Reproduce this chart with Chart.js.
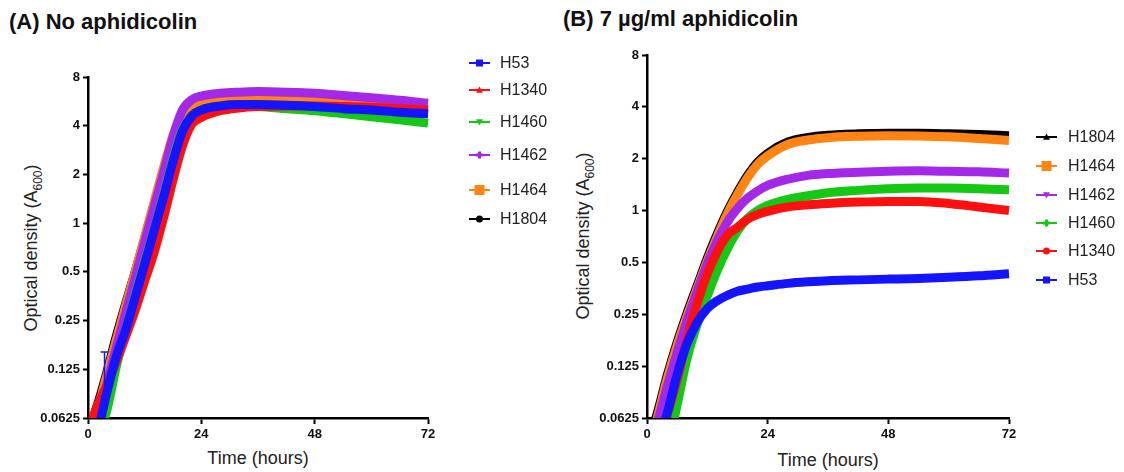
<!DOCTYPE html>
<html>
<head>
<meta charset="utf-8">
<script src="https://cdn.jsdelivr.net/npm/chart.js@4.4.1/dist/chart.umd.min.js"></script>
<style>
  body { margin: 0; background: #fff; width: 1124px; height: 472px; overflow: hidden; position: relative; font-family: "Liberation Sans", Arial, sans-serif; }
  canvas { position: absolute; top: 0; }
  #chartA { left: 0; }
  #chartB { left: 562px; }
  .head { position: absolute; font-weight: bold; font-size: 22px; color: #111; white-space: nowrap; }
  .ytitle { position: absolute; font-size: 18px; color: #222; white-space: nowrap; transform: translate(-50%, -50%) rotate(-90deg); }
  .xtitle { position: absolute; font-size: 18px; color: #222; white-space: nowrap; transform: translate(-50%, -50%); }
  .ytitle sub { font-size: 12px; }
</style>
</head>
<body>
<div class="head" style="left:9px; top:9px;">(A) No aphidicolin</div>
<div class="head" style="left:563px; top:6px;">(B) 7 µg/ml aphidicolin</div>
<div class="ytitle" style="left:33px; top:248px;">Optical density (A<sub>600</sub>)</div>
<div class="ytitle" style="left:585px; top:236px;">Optical density (A<sub>600</sub>)</div>
<div class="xtitle" style="left:258px; top:458px;">Time (hours)</div>
<div class="xtitle" style="left:828px; top:460px;">Time (hours)</div>
<canvas id="chartA" width="562" height="472"></canvas>
<canvas id="chartB" width="562" height="472"></canvas>
<script>
// --- DADOS ---
const hours = [0, 2, 4, 6, 8, 10, 12, 14, 16, 18, 20, 22, 24, 28, 32, 36, 42, 48, 54, 60, 66, 72];
const xTickValues = [0, 24, 48, 72];
const yTickValues = [0.0625, 0.125, 0.25, 0.5, 1, 2, 4, 8];
const yTickLabels = ["0.0625", "0.125", "0.25", "0.5", "1", "2", "4", "8"];

// (A) sem afidicolina
const a_H53   = [0.03, 0.05, 0.09, 0.15, 0.22, 0.35, 0.56, 0.9, 1.45, 2.4, 3.7, 4.6, 5.0, 5.3, 5.4, 5.4, 5.35, 5.25, 5.1, 5.0, 4.85, 4.75];
const a_H1340 = [0.05, 0.075, 0.1, 0.14, 0.2, 0.29, 0.44, 0.66, 1.08, 1.85, 3.0, 4.1, 4.5, 4.95, 5.15, 5.25, 5.3, 5.3, 5.25, 5.2, 5.1, 5.0];
const a_H1460 = [0.03, 0.045, 0.07, 0.13, 0.22, 0.36, 0.58, 0.92, 1.5, 2.5, 3.8, 4.6, 5.0, 5.25, 5.3, 5.25, 5.1, 4.95, 4.75, 4.55, 4.35, 4.15];
const a_H1462 = [0.04, 0.06, 0.1, 0.17, 0.28, 0.46, 0.76, 1.25, 2.05, 3.4, 5.0, 5.8, 6.1, 6.35, 6.45, 6.5, 6.45, 6.35, 6.15, 5.95, 5.75, 5.5];
const a_H1464 = [0.045, 0.07, 0.115, 0.19, 0.31, 0.5, 0.82, 1.35, 2.2, 3.5, 4.8, 5.4, 5.7, 5.9, 5.95, 5.95, 5.9, 5.8, 5.6, 5.4, 5.2, 5.0];
const a_H1804 = [0.05, 0.075, 0.12, 0.2, 0.32, 0.5, 0.8, 1.3, 2.1, 3.3, 4.5, 5.1, 5.3, 5.45, 5.5, 5.5, 5.45, 5.35, 5.2, 5.05, 4.9, 4.75];
const a_errHour = 3.5, a_errLow = 0.085, a_errHigh = 0.16; // barra de erro do H53

// (B) 7 µg/ml afidicolina
const b_H1804 = [0.045, 0.066, 0.11, 0.172, 0.255, 0.368, 0.53, 0.735, 0.99, 1.28, 1.6, 1.91, 2.15, 2.5, 2.66, 2.74, 2.79, 2.81, 2.81, 2.79, 2.76, 2.72];
const b_H1464 = [0.04, 0.062, 0.105, 0.165, 0.245, 0.355, 0.51, 0.71, 0.96, 1.24, 1.55, 1.85, 2.08, 2.42, 2.57, 2.65, 2.7, 2.72, 2.71, 2.68, 2.62, 2.55];
const b_H1462 = [0.04, 0.058, 0.095, 0.15, 0.23, 0.34, 0.49, 0.67, 0.86, 1.03, 1.18, 1.3, 1.4, 1.52, 1.6, 1.64, 1.67, 1.69, 1.7, 1.69, 1.68, 1.65];
const b_H1460 = [0.025, 0.032, 0.04, 0.075, 0.14, 0.22, 0.32, 0.45, 0.6, 0.76, 0.9, 1.0, 1.07, 1.16, 1.22, 1.27, 1.31, 1.34, 1.35, 1.35, 1.34, 1.32];
const b_H1340 = [0.03, 0.045, 0.065, 0.105, 0.18, 0.29, 0.43, 0.58, 0.72, 0.8, 0.89, 0.95, 0.99, 1.05, 1.08, 1.1, 1.12, 1.13, 1.13, 1.1, 1.05, 1.0];
const b_H53   = [0.028, 0.042, 0.066, 0.112, 0.17, 0.225, 0.27, 0.3, 0.322, 0.34, 0.35, 0.36, 0.366, 0.378, 0.386, 0.392, 0.396, 0.4, 0.404, 0.41, 0.418, 0.43];

const colors = { H53: "#1414ff", H1340: "#ff1010", H1460: "#14c814", H1462: "#a428e8", H1464: "#ff8414", H1804: "#000000" };
const markers = { a: { H53: "rect", H1340: "triangle", H1460: "triangleDown", H1462: "cross", H1464: "rect", H1804: "circle" },
                  b: { H1804: "triangle", H1464: "rect", H1462: "triangleDown", H1460: "cross", H1340: "circle", H53: "rect" } };

// --- UTILITÁRIOS ---
const drawMarker = (ctx, style, x, y, r, color) => {
    ctx.fillStyle = color;
    ctx.beginPath();
    if (style === "rect") ctx.rect(x - r, y - r, 2 * r, 2 * r);
    else if (style === "circle") ctx.arc(x, y, r, 0, Math.PI * 2);
    else if (style === "triangle") { ctx.moveTo(x, y - r); ctx.lineTo(x + r, y + r * 0.8); ctx.lineTo(x - r, y + r * 0.8); }
    else if (style === "triangleDown") { ctx.moveTo(x, y + r); ctx.lineTo(x + r, y - r * 0.8); ctx.lineTo(x - r, y - r * 0.8); }
    else if (style === "cross") { ctx.rect(x - 1.5, y - r, 3, 2 * r); ctx.rect(x - r, y - 1.5, 2 * r, 3); }
    ctx.closePath();
    ctx.fill();
};

const sideLegend = {
    id: "sideLegend",
    afterDraw(chart, args, opts) {
        const ctx = chart.ctx;
        ctx.save();
        chart.data.datasets.forEach((ds, i) => {
            const y = opts.ys[i];
            ctx.strokeStyle = ds.borderColor;
            ctx.lineWidth = 2;
            ctx.beginPath();
            ctx.moveTo(opts.x, y);
            ctx.lineTo(opts.x + 21, y);
            ctx.stroke();
            drawMarker(ctx, ds.marker, opts.x + 10.5, y, ds.marker === "rect" && ds.label === "H1464" ? 5 : 3.5, ds.borderColor);
            ctx.fillStyle = "#222";
            ctx.font = "16px 'Liberation Sans', Arial, sans-serif";
            ctx.textBaseline = "middle";
            ctx.fillText(ds.label, opts.x + opts.gap, y + 1);
        });
        ctx.restore();
    }
};

const errBar = {
    id: "errBar",
    afterDatasetsDraw(chart, args, opts) {
        if (!opts.show) return;
        const { ctx, scales: { x, y } } = chart;
        const px = x.getPixelForValue(opts.hour), y1 = y.getPixelForValue(opts.low), y2 = y.getPixelForValue(opts.high);
        ctx.save();
        ctx.strokeStyle = opts.color;
        ctx.lineWidth = 1.5;
        ctx.beginPath();
        ctx.moveTo(px, y1); ctx.lineTo(px, y2);
        ctx.moveTo(px - 4, y1); ctx.lineTo(px + 4, y1);
        ctx.moveTo(px - 4, y2); ctx.lineTo(px + 4, y2);
        ctx.stroke();
        ctx.restore();
    }
};

const tickFont = { family: "'Liberation Sans', Arial, sans-serif", size: 13, weight: "bold" };

const makeChart = (id, series, cfg) => new Chart(document.getElementById(id), {
    type: "line",
    data: {
        datasets: series.map(s => ({
            label: s.name,
            data: hours.map((h, i) => ({ x: h, y: s.values[i] })),
            borderColor: colors[s.name],
            backgroundColor: colors[s.name],
            borderWidth: 9,
            pointRadius: 0,
            cubicInterpolationMode: "monotone",
            order: s.order,
            marker: s.marker,
            clip: { left: 0, top: 0, right: 6, bottom: 0 }
        }))
    },
    options: {
        responsive: false,
        animation: false,
        devicePixelRatio: 1,
        layout: { padding: { left: 0, top: cfg.top, right: cfg.right, bottom: 0 } },
        plugins: {
            legend: { display: false },
            tooltip: { enabled: false },
            sideLegend: { x: cfg.legendX, gap: cfg.legendGap, ys: cfg.legendYs },
            errBar: cfg.err || { show: false }
        },
        scales: {
            x: {
                type: "linear", min: 0, max: 72,
                afterBuildTicks: sc => { sc.ticks = xTickValues.map(v => ({ value: v })); },
                afterFit: sc => { sc.height = 54; },
                ticks: { font: tickFont, color: "#111", padding: 3, maxRotation: 0 },
                grid: { drawOnChartArea: false, drawTicks: true, tickLength: 6, tickWidth: 2, tickColor: "#000" },
                border: { display: true, color: "#000", width: 2.5 }
            },
            y: {
                type: "logarithmic", min: 0.0625, max: 8,
                afterBuildTicks: sc => { sc.ticks = yTickValues.map(v => ({ value: v })); },
                afterFit: sc => { sc.width = cfg.yWidth; },
                ticks: { font: tickFont, color: "#111", padding: 3, autoSkip: false,
                         callback: v => yTickLabels[yTickValues.indexOf(v)] },
                grid: { drawOnChartArea: false, drawTicks: true, tickLength: 5, tickWidth: 2, tickColor: "#000" },
                border: { display: true, color: "#000", width: 2.5 }
            }
        }
    },
    plugins: [sideLegend, errBar]
});

// --- GRÁFICOS ---
makeChart("chartA", [
    { name: "H53", values: a_H53, marker: markers.a.H53, order: 0 },
    { name: "H1340", values: a_H1340, marker: markers.a.H1340, order: 1 },
    { name: "H1460", values: a_H1460, marker: markers.a.H1460, order: 2 },
    { name: "H1462", values: a_H1462, marker: markers.a.H1462, order: 3 },
    { name: "H1464", values: a_H1464, marker: markers.a.H1464, order: 4 },
    { name: "H1804", values: a_H1804, marker: markers.a.H1804, order: 5 }
], {
    top: 77, right: 134, yWidth: 88, legendX: 469, legendGap: 31, legendYs: [63, 90, 122, 155, 190, 219],
    err: { show: true, hour: a_errHour, low: a_errLow, high: a_errHigh, color: colors.H53 }
});

makeChart("chartB", [
    { name: "H1804", values: b_H1804, marker: markers.b.H1804, order: 5 },
    { name: "H1464", values: b_H1464, marker: markers.b.H1464, order: 4 },
    { name: "H1462", values: b_H1462, marker: markers.b.H1462, order: 3 },
    { name: "H1460", values: b_H1460, marker: markers.b.H1460, order: 2 },
    { name: "H1340", values: b_H1340, marker: markers.b.H1340, order: 1 },
    { name: "H53", values: b_H53, marker: markers.b.H53, order: 0 }
], {
    top: 55, right: 115, yWidth: 85, legendX: 474, legendGap: 32, legendYs: [137, 166, 195, 223, 251, 280]
});
</script>
</body>
</html>
